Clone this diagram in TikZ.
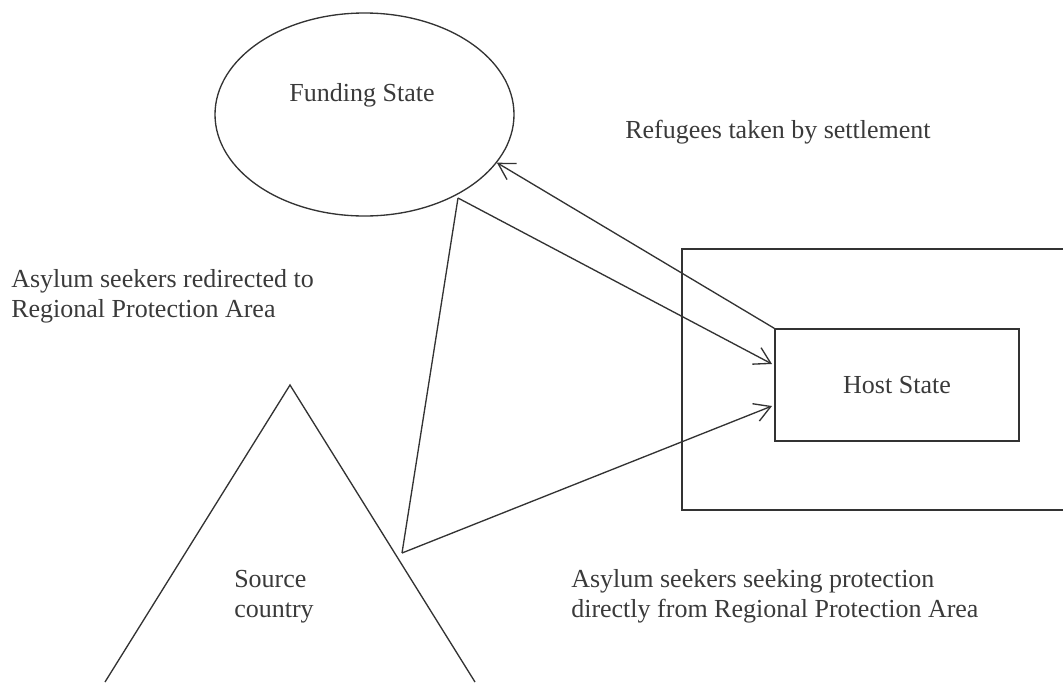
\documentclass[tikz,border=0pt]{standalone}
\usepackage{fontspec}
\setmainfont{Liberation Serif}
\usetikzlibrary{shapes.geometric,arrows.meta}
\definecolor{ink}{HTML}{333333}
\definecolor{txt}{HTML}{3A3A3A}
\tikzset{
  ln/.style={draw=ink, line width=1pt},
  arr/.style={ln, -{Straight Barb[length=12pt,width=14pt,line width=1pt]}},
  lbl/.style={text=txt, inner sep=0pt, font=\fontsize{19.5pt}{22pt}\selectfont, align=left},
}
\begin{document}
\begin{tikzpicture}[x=0.75pt,y=-0.75pt]
\useasboundingbox (0,0) rectangle (1063,682);
% Funding state ellipse
\node[ellipse, ln, inner sep=0pt, minimum width=224.25pt, minimum height=152.25pt] (fund) at (364.5,114.5) {};
\node[lbl, anchor=base] (fundtxt) at (362,101) {Funding State};
% outer region (cut by right edge)
\draw[ln] (1064,249) -- (682,249) -- (682,510) -- (1064,510);
% Host state
\node[ln, lbl, minimum width=183pt, minimum height=84pt, align=center] (host) at (897,385) {Host State};
% Source country triangle (cut by bottom edge)
\coordinate (sl) at (105,682);
\coordinate (sa) at (290,385);
\coordinate (sr) at (475,682);
\draw[ln] (sl) -- (sa) -- (sr);
\node[lbl, anchor=base west] (srctxt) at (234,617) {Source\\country};
% Regional protection area wedge
\coordinate (ttop) at (458,198);
\coordinate (tbot) at (402,553);
\coordinate (a1) at (772,364);
\coordinate (a2) at (772,406);
\draw[ln] (ttop) -- (tbot);
\draw[arr] (ttop) -- (a1);
\draw[arr] (tbot) -- (a2);
\draw[arr] (host.north west) -- (fund.-20);
% labels
\node[lbl, anchor=base west] (reftxt) at (625,138) {Refugees taken by settlement};
\node[lbl, anchor=base west] (redtxt) at (11,317) {Asylum seekers redirected to\\Regional Protection Area};
\node[lbl, anchor=base west] (dirtxt) at (571,617) {Asylum seekers seeking protection\\directly from Regional Protection Area};
\end{tikzpicture}
\end{document}
